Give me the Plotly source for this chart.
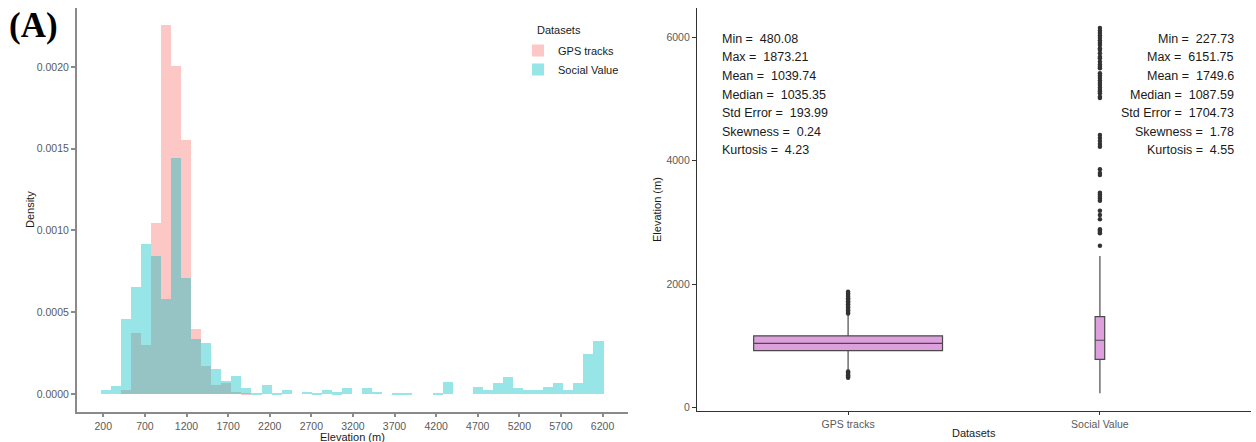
import plotly.graph_objects as go

# ---------------------------------------------------------------------------
# Histogram: 50 bins laid over the pooled elevation range of both datasets
# ---------------------------------------------------------------------------
elev_min = 227.73
elev_max = 6151.75
n_bins = 50
bin_width = (elev_max - elev_min) / (n_bins - 1)
bin_centers = [elev_min + i * bin_width for i in range(n_bins)]

gps_density = [
    0, 0, 0.000026, 0.000371, 0.000300, 0.001044, 0.002257, 0.002006, 0.001550, 0.000396,
    0.000171, 0.000055, 0.000069, 0.000014, 0.000004, 0, 0, 0, 0, 0,
    0, 0, 0, 0, 0, 0, 0, 0, 0, 0,
    0, 0, 0, 0, 0, 0, 0, 0, 0, 0,
    0, 0, 0, 0, 0, 0, 0, 0, 0, 0,
]

social_density = [
    0.000026, 0.000046, 0.000457, 0.000656, 0.000915, 0.000846, 0.000579, 0.001445, 0.000708, 0.000336,
    0.000310, 0.000155, 0.000077, 0.000108, 0.000035, 0.000008, 0.000055, 0.000008, 0.000024, 0,
    0.000014, 0.000008, 0.000024, 0.000010, 0.000035, 0, 0.000035, 0.000014, 0, 0.000008,
    0.000008, 0, 0, 0.000006, 0.000075, 0, 0, 0.000045, 0.000026, 0.000065,
    0.000106, 0.000035, 0.000026, 0.000026, 0.000045, 0.000066, 0.000026, 0.000066, 0.000247, 0.000326,
]

hist_xticks = [200, 700, 1200, 1700, 2200, 2700, 3200, 3700, 4200, 4700, 5200, 5700, 6200]
hist_yticks = [0.0, 0.0005, 0.0010, 0.0015, 0.0020]
hist_yticklabels = ["0.0000", "0.0005", "0.0010", "0.0015", "0.0020"]

# ---------------------------------------------------------------------------
# Boxplot summaries
# ---------------------------------------------------------------------------
datasets = ["GPS tracks", "Social Value"]
box_q1 = [918, 779]
box_median = [1035.35, 1087.59]
box_q3 = [1160, 1470]
box_lower = [598, 227.73]
box_upper = [1505, 2454]

gps_outliers = [
    480.08, 500, 520, 540, 560, 580,
    1520, 1545, 1570, 1595, 1620, 1645, 1670, 1695, 1720, 1745,
    1770, 1795, 1820, 1845, 1873.21,
]
social_outliers = [
    2621, 2822, 2845, 2865, 2887, 3049, 3119, 3189, 3351, 3385, 3415, 3450, 3481,
    3768, 3800, 3860, 4227, 4270, 4320, 4370, 4417,
    5017, 5038, 5093, 5123, 5147, 5183, 5228, 5260, 5300, 5340, 5380, 5418,
    5499, 5525, 5560, 5606, 5661, 5687, 5742, 5796, 5823, 5877, 5910, 5950,
    5990, 6030, 6070, 6110, 6151.75,
]

box_yticks = [0, 2000, 4000, 6000]

stat_names = ["Min", "Max", "Mean", "Median", "Std Error", "Skewness", "Kurtosis"]
gps_stats = ["480.08", "1873.21", "1039.74", "1035.35", "193.99", "0.24", "4.23"]
social_stats = ["227.73", "6151.75", "1749.6", "1087.59", "1704.73", "1.78", "4.55"]

# ---------------------------------------------------------------------------
W, H = 1256, 442
FONT = "Liberation Sans, Arial, sans-serif"
PINK = "#F8766D"
CYAN = "#00BFC4"

fig = go.Figure()

fig.add_trace(go.Bar(
    x=bin_centers, y=gps_density, width=bin_width, name="GPS tracks",
    marker=dict(color=PINK, line=dict(width=0)), opacity=0.4,
    xaxis="x", yaxis="y",
))
fig.add_trace(go.Bar(
    x=bin_centers, y=social_density, width=bin_width, name="Social Value",
    marker=dict(color=CYAN, line=dict(width=0)), opacity=0.4,
    xaxis="x", yaxis="y",
))

box_widths = [0.75, 0.038]
for i, name in enumerate(datasets):
    fig.add_trace(go.Box(
        x=[i + 1], q1=[box_q1[i]], median=[box_median[i]], q3=[box_q3[i]],
        lowerfence=[box_lower[i]], upperfence=[box_upper[i]],
        width=box_widths[i], whiskerwidth=0, boxpoints=False,
        fillcolor="#DDA0DD", line=dict(color="#4a4a4a", width=1.2),
        xaxis="x2", yaxis="y2", showlegend=False, name=name, hoverinfo="skip",
    ))

for i, pts in enumerate([gps_outliers, social_outliers]):
    fig.add_trace(go.Scatter(
        x=[i + 1] * len(pts), y=pts, mode="markers",
        marker=dict(color="#333333", size=4.5),
        xaxis="x2", yaxis="y2", showlegend=False, hoverinfo="skip",
    ))

# Summary statistics text
line_y = [39, 57.5, 76, 94.5, 113, 131.5, 150]
annotations = []
for k, nm in enumerate(stat_names):
    annotations.append(dict(
        text=f"{nm} = \u00a0{gps_stats[k]}", xref="paper", yref="paper",
        x=720 / W, y=1 - line_y[k] / H, xanchor="left", yanchor="middle",
        showarrow=False, font=dict(family=FONT, size=12.5, color="#1a1a1a"),
    ))
    annotations.append(dict(
        text=f"{nm} = \u00a0{social_stats[k]}", xref="paper", yref="paper",
        x=1236 / W, y=1 - line_y[k] / H, xanchor="right", yanchor="middle",
        showarrow=False, font=dict(family=FONT, size=12.5, color="#1a1a1a"),
    ))

annotations.append(dict(
    text="<b>(A)</b>", xref="paper", yref="paper", x=7 / W, y=1 - 25 / H,
    xanchor="left", yanchor="middle", showarrow=False,
    font=dict(family="Liberation Serif, Times New Roman, serif", size=35, color="#000000"),
))

# Axis titles and the legend heading
annotations += [
    dict(text="Elevation (m)", xref="paper", yref="paper", x=352 / W, y=1 - 437 / H,
         xanchor="center", yanchor="middle", showarrow=False,
         font=dict(family=FONT, size=11, color="#1a1a1a")),
    dict(text="Density", xref="paper", yref="paper", x=30 / W, y=1 - 210 / H,
         xanchor="center", yanchor="middle", showarrow=False, textangle=-90,
         font=dict(family=FONT, size=11, color="#1a1a1a")),
    dict(text="Datasets", xref="paper", yref="paper", x=974 / W, y=1 - 433 / H,
         xanchor="center", yanchor="middle", showarrow=False,
         font=dict(family=FONT, size=11, color="#1a1a1a")),
    dict(text="Elevation (m)", xref="paper", yref="paper", x=657 / W, y=1 - 210 / H,
         xanchor="center", yanchor="middle", showarrow=False, textangle=-90,
         font=dict(family=FONT, size=11, color="#1a1a1a")),
    dict(text="Datasets", xref="paper", yref="paper", x=535 / W, y=1 - 30 / H,
         xanchor="left", yanchor="middle", showarrow=False,
         font=dict(family=FONT, size=11, color="#1a1a1a")),
]

tickfont = dict(family=FONT, size=10.5, color="#5a5a5a")

fig.update_layout(
    width=W, height=H,
    margin=dict(l=0, r=0, t=0, b=0),
    paper_bgcolor="white", plot_bgcolor="white",
    barmode="overlay", bargap=0,
    font=dict(family=FONT),
    xaxis=dict(
        domain=[77 / W, 628 / W], range=[-116, 6506],
        tickvals=hist_xticks, ticks="outside", ticklen=3, tickwidth=1.5,
        tickcolor="#8a8a8a", showline=True, linecolor="#8a8a8a", linewidth=2,
        showgrid=False, zeroline=False, tickfont=tickfont, automargin=False,
        anchor="y",
    ),
    yaxis=dict(
        domain=[1 - 412 / H, 1 - 8 / H], range=[-0.00011, 0.00236],
        tickvals=hist_yticks, ticktext=hist_yticklabels,
        ticks="outside", ticklen=4, tickwidth=1.5,
        tickcolor="#8a8a8a", showline=True, linecolor="#8a8a8a", linewidth=2,
        showgrid=False, zeroline=False, tickfont=tickfont, automargin=False,
        anchor="x",
    ),
    xaxis2=dict(
        domain=[697 / W, 1251 / W], range=[0.4, 2.6],
        tickvals=[1, 2], ticktext=datasets, ticks="outside", ticklen=3,
        tickcolor="#333333", showline=True, linecolor="#333333", linewidth=1.2,
        showgrid=False, zeroline=False, tickfont=tickfont, automargin=False,
        anchor="y2",
    ),
    yaxis2=dict(
        domain=[1 - 411 / H, 1 - 8 / H], range=[-60, 6477],
        tickvals=box_yticks, ticks="outside", ticklen=4,
        tickcolor="#333333", showline=True, linecolor="#333333", linewidth=1.2,
        showgrid=False, zeroline=False, tickfont=tickfont, automargin=False,
        anchor="x2",
    ),
    legend=dict(
        x=518 / W, y=1 - 36 / H, xanchor="left", yanchor="top",
        font=dict(family=FONT, size=11, color="#1a1a1a"),
        bgcolor="rgba(0,0,0,0)", tracegroupgap=0, itemsizing="constant",
    ),
    annotations=annotations,
    showlegend=True,
)

fig.write_html("out.html")
